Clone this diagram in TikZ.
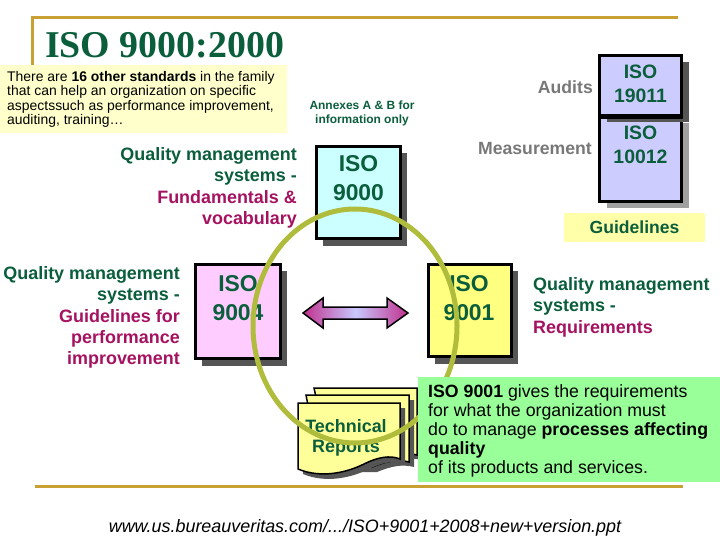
\documentclass[tikz,border=0pt]{standalone}
\usepackage{fontspec}
\setmainfont{Liberation Sans}
\newfontfamily\titlefont{Liberation Serif}
\usetikzlibrary{shadows}
\definecolor{dgreen}{RGB}{10,94,60}
\definecolor{mag}{RGB}{165,18,96}
\definecolor{gold}{RGB}{201,160,50}
\definecolor{olive}{RGB}{176,188,60}
\definecolor{noteyellow}{RGB}{255,255,204}
\definecolor{guideyellow}{RGB}{255,255,170}
\definecolor{docyellow}{RGB}{255,255,153}
\definecolor{boxyellow}{RGB}{255,255,128}
\definecolor{boxcyan}{RGB}{204,255,255}
\definecolor{boxpink}{RGB}{255,204,255}
\definecolor{boxlav}{RGB}{204,204,255}
\definecolor{lgreen}{RGB}{153,255,153}
\definecolor{shgray}{RGB}{85,85,85}
\definecolor{lshgray}{RGB}{160,160,160}
\definecolor{txtgray}{RGB}{120,120,120}
\definecolor{arrmag}{RGB}{192,48,140}
\definecolor{arrlav}{RGB}{200,200,255}
\tikzset{
  lbl/.style={inner sep=0pt, text=dgreen, font=\bfseries\fontsize{18}{21.5}\selectfont},
  isobox/.style={draw=black, line width=3bp, inner sep=0pt,
    drop shadow={shadow xshift=6bp, shadow yshift=-7bp, fill=shgray, opacity=1}},
  isotxt/.style={inner sep=0pt, align=center, text=dgreen, font=\bfseries\fontsize{23}{28.5}\selectfont},
  smallisotxt/.style={inner sep=0pt, align=center, text=dgreen, font=\bfseries\fontsize{19.5}{24}\selectfont},
  graytxt/.style={inner sep=0pt, text=txtgray, font=\bfseries\fontsize{17.7}{20}\selectfont},
  pagestyle/.style={fill=docyellow, draw=black, line width=1.5bp,
    drop shadow={shadow xshift=5bp, shadow yshift=-5bp, fill=shgray, opacity=1}},
  framestyle/.style={draw=gold, line width=3bp},
}
\begin{document}
\begin{tikzpicture}[x=1bp,y=-1bp]
\path[use as bounding box, fill=white] (0,0) rectangle (720,540);

% frame
\draw[framestyle] (32,66) -- (32,18) -- (678,18);
\draw[framestyle] (35,486) -- (683,486);

% title
\node[anchor=base west, inner sep=0pt, text=dgreen, font=\titlefont\bfseries\fontsize{38}{40}\selectfont] (title) at (45,58) {ISO 9000:2000};

% note box
\node[fill=noteyellow, anchor=north west, inner sep=0pt, minimum width=287bp, minimum height=68bp] (note) at (0,65) {};
\node[anchor=north west, inner sep=0pt, align=left, font=\fontsize{14}{14.5}\selectfont] (notetext) at (7,71)
  {There are \textbf{16 other standards} in the family\\that can help an organization on specific\\aspectssuch as performance improvement,\\auditing, training\dots};

% annexes
\node[anchor=north, inner sep=0pt, align=center, text=dgreen, font=\bfseries\fontsize{12}{14}\selectfont] (annex) at (362,100.5)
  {Annexes A \& B for\\information only};

% ISO 9000
\node[isobox, fill=boxcyan, minimum width=84bp, minimum height=92bp] (b9000) at (358.5,192.5) {};
\node[isotxt] (t9000) at (358.5,178) {ISO\\9000};
\node[lbl, anchor=north east, align=right] (d9000) at (297,147)
  {Quality management\\systems -\\{\color{mag}Fundamentals \&}\\{\color{mag}vocabulary}};

% ISO 19011 / 10012
\node[draw=black, line width=3bp, inner sep=0pt, fill=boxlav, minimum width=82bp, minimum height=85bp,
  drop shadow={shadow xshift=7bp, shadow yshift=-7bp, fill=lshgray, opacity=1}] (b10012) at (640.5,159) {};
\node[draw=black, line width=3bp, inner sep=0pt, fill=boxlav, minimum width=82bp, minimum height=60bp,
  drop shadow={shadow xshift=7bp, shadow yshift=-6bp, fill=shgray, opacity=1}] (b19011) at (640.5,86) {};
\draw[black, line width=3bp] (b19011.south west) -- (b19011.south east);
\node[smallisotxt] (t19011) at (640.5,83.5) {ISO\\19011};
\node[smallisotxt] (t10012) at (640.5,144.5) {ISO\\10012};
\node[graytxt, anchor=east] (audits) at (593,87) {Audits};
\node[graytxt, anchor=east] (meas) at (592,148.5) {Measurement};

% guidelines
\node[fill=guideyellow, inner sep=0pt, minimum width=141bp, minimum height=29bp, text=dgreen,
  font=\bfseries\fontsize{17.6}{20}\selectfont] (guide) at (634.5,227.5) {Guidelines};

% ISO 9004
\node[isobox, fill=boxpink, minimum width=85bp, minimum height=94bp] (b9004) at (238,311.5) {};
\node[isotxt] (t9004) at (238,298) {ISO\\9004};
\node[lbl, anchor=north east, align=right] (d9004) at (180,266)
  {Quality management\\systems -\\{\color{mag}Guidelines for}\\{\color{mag}performance}\\{\color{mag}improvement}};

% ISO 9001
\node[isobox, fill=boxyellow, minimum width=83bp, minimum height=92bp] (b9001) at (470,310.5) {};
\node[isotxt] (t9001) at (469,298) {ISO\\9001};
\node[lbl, anchor=north west, align=left] (d9001) at (533,277)
  {Quality management\\systems -\\{\color{mag}Requirements}};

% double arrow
\draw[black, line width=1.5bp, left color=arrmag, right color=arrmag, middle color=arrlav]
  (303,313) -- (323,298) -- (323,307) -- (387,307) -- (387,298) -- (408,313)
  -- (387,328) -- (387,319) -- (323,319) -- (323,328) -- cycle;

% technical reports
\draw[pagestyle] (314,388) -- (417,388) -- (417,455)
  .. controls (405,452) and (395,454) .. (380,460) -- (330,460) -- cycle;
\draw[pagestyle] (306,395) -- (409,395) -- (409,462)
  .. controls (397,459) and (387,461) .. (372,467) -- (320,467) -- cycle;
\draw[pagestyle] (298,403) -- (400,403) -- (400,459)
  .. controls (390,455) and (378,457) .. (364,464)
  .. controls (348,472) and (322,479) .. (298,469) -- cycle;
\node[inner sep=0pt, align=center, text=dgreen, font=\bfseries\fontsize{18}{20}\selectfont] (tech) at (346,437.5)
  {Technical\\Reports};

% ellipse
\draw[olive, line width=5bp] (355,326) ellipse [x radius=102, y radius=117];

% green box
\node[fill=lgreen, anchor=north west, inner sep=0pt, minimum width=302bp, minimum height=105bp] (gbox) at (418,377) {};
\node[anchor=north west, inner sep=0pt, align=left, font=\fontsize{17.8}{19.3}\selectfont] (gtext) at (428,384)
  {\textbf{ISO 9001} gives the requirements\\for what the organization must\\do to manage \textbf{processes affecting}\\\textbf{quality}\\of its products and services.};

% url
\node[anchor=base, inner sep=0pt, font=\itshape\fontsize{18}{20}\selectfont] (url) at (365,532)
  {www.us.bureauveritas.com/.../ISO+9001+2008+new+version.ppt};
\end{tikzpicture}
\end{document}
